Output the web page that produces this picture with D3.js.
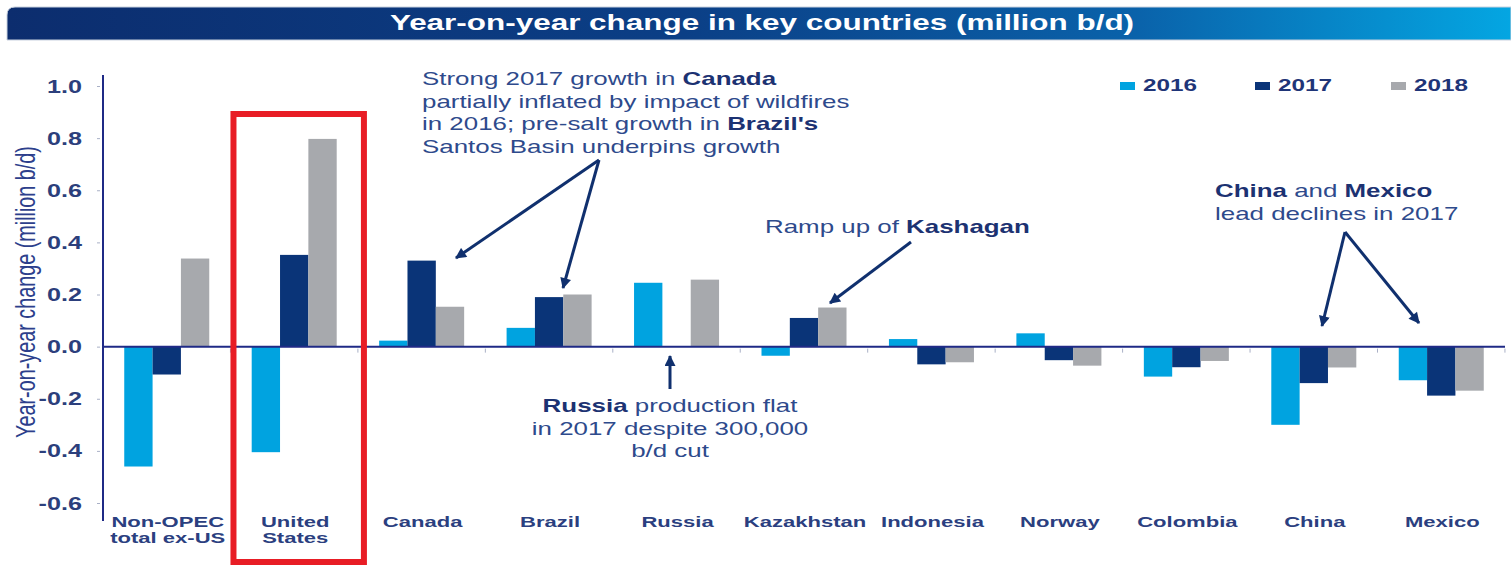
<!DOCTYPE html>
<html><head><meta charset="utf-8">
<script src="https://cdn.jsdelivr.net/npm/d3@7"></script>
<style>
body{margin:0;background:#fff}
svg{display:block}
text{font-family:"Liberation Sans",Arial,Helvetica,sans-serif}
</style>
</head><body>
<svg id="c" width="1511" height="566"></svg>
<script>
// ---------------- data ----------------
const categories = [["Non-OPEC","total ex-US"],["United","States"],["Canada"],["Brazil"],["Russia"],["Kazakhstan"],["Indonesia"],["Norway"],["Colombia"],["China"],["Mexico"]];
const categoryNames = categories.map(c => c.join(" "));
const seriesNames = ["2016","2017","2018"];
const values2016 = [-0.46,-0.405,0.023,0.072,0.245,-0.035,0.029,0.051,-0.115,-0.30,-0.129];
const values2017 = [-0.107,0.352,0.33,0.19,0,0.11,-0.068,-0.052,-0.079,-0.14,-0.188];
const values2018 = [0.338,0.797,0.153,0.20,0.257,0.15,-0.06,-0.073,-0.055,-0.08,-0.169];
const yTicks = [-0.6,-0.4,-0.2,0,0.2,0.4,0.6,0.8,1.0];
const yTickLabels = ["-0.6","-0.4","-0.2","0.0","0.2","0.4","0.6","0.8","1.0"];
const seriesColors = ["#00a3e0","#0a3478","#a7a9ad"];
const titleText = "Year-on-year change in key countries (million b/d)";
const yAxisTitle = "Year-on-year change (million b/d)";
const highlighted = "United States";

// ---------------- setup ----------------
const SX = 1.4; // horizontal glyph stretch of the reference
const svg = d3.select("#c");
const navy = "#1c3272";
const textBlue = "#2e4a8c";

const x0 = d3.scaleBand().domain(categoryNames).range([103,1505]).paddingInner(0.333).paddingOuter(0.1667);
const x1 = d3.scaleBand().domain(seriesNames).range([0,x0.bandwidth()]).padding(0);
const y = d3.scaleLinear().domain([-0.6,1.0]).range([503,86]);
const step = x0.step();

function stext(parent, x, yy, parts, o){
  const t = parent.append("text")
    .attr("transform", `translate(${x},${yy}) scale(${o.sx||SX},1)`)
    .attr("text-anchor", o.anchor||"start")
    .attr("font-size", o.size)
    .attr("fill", o.fill||navy);
  (Array.isArray(parts)?parts:[[parts,o.bold]]).forEach(([s,b]) => {
    t.append("tspan").text(s).attr("font-weight", b ? "bold" : "normal")
      .attr("fill", b ? (o.boldFill||o.fill||navy) : (o.fill||navy));
  });
  return t;
}

// ---------------- title bar ----------------
const defs = svg.append("defs");
const grad = defs.append("linearGradient").attr("id","tg").attr("x1","0").attr("x2","1").attr("y1","0").attr("y2","0");
[["0%","#0c2d6e"],["45%","#0b3f86"],["75%","#0a62aa"],["100%","#04a6e2"]].forEach(([o,c]) =>
  grad.append("stop").attr("offset",o).attr("stop-color",c));
svg.append("path").attr("d","M7,40 L7,15 Q7,7 15,7 L1511,7 L1511,40 Z")
  .attr("fill","url(#tg)").attr("stroke","#c9d2df").attr("stroke-width",1);
stext(svg, 762, 30, titleText, {size:22, bold:true, anchor:"middle", fill:"#ffffff", sx:1.43});

// ---------------- y axis ----------------
const yAxisG = svg.append("g").attr("transform","translate(100,0)")
  .call(d3.axisLeft(y).tickValues(yTicks).tickSize(3).tickFormat(""));
yAxisG.select(".domain").remove();
yAxisG.selectAll(".tick line").attr("stroke","#a9b0c6");
yTicks.forEach((v,i) => stext(svg, 82, y(v)+6.5, yTickLabels[i], {size:18, bold:true, anchor:"end", fill:"#2c3f7c"}));
svg.append("line").attr("x1",103).attr("x2",103).attr("y1",75).attr("y2",521)
  .attr("stroke","#1f2a86").attr("stroke-width",2);

svg.append("text").attr("transform",`translate(35,292) rotate(-90) scale(1,1.4)`)
  .attr("text-anchor","middle").attr("font-size",19.8).attr("fill","#2d3f8c").text(yAxisTitle);

// ---------------- bars ----------------
const seriesValues = [values2016, values2017, values2018];
const rows = [];
categoryNames.forEach((c,i) => seriesNames.forEach((s,j) => rows.push({c, s, j, v: seriesValues[j][i]})));
svg.append("g").selectAll("rect").data(rows).join("rect")
  .attr("x", d => x0(d.c) + x1(d.s))
  .attr("width", x1.bandwidth())
  .attr("y", d => y(Math.max(0,d.v)))
  .attr("height", d => Math.abs(y(d.v)-y(0)))
  .attr("fill", d => seriesColors[d.j]);

// x tick marks at boundaries
const boundaries = d3.range(1, categoryNames.length+1).map(i => 103 + i*step);
svg.append("g").selectAll("line").data(boundaries).join("line")
  .attr("x1", d => d).attr("x2", d => d).attr("y1", y(0)+2).attr("y2", y(0)+6)
  .attr("stroke","#a9b0c6").attr("stroke-width",1);
// zero line
svg.append("line").attr("x1",103).attr("x2",1505).attr("y1",y(0)).attr("y2",y(0))
  .attr("stroke","#1f2a86").attr("stroke-width",2);

// ---------------- category labels ----------------
categories.forEach((lines,i) => {
  const cx = x0(categoryNames[i]) + x0.bandwidth()/2 + 1;
  lines.forEach((ln,k) => stext(svg, cx, 527 + k*16.3, ln, {size:15, bold:true, anchor:"middle", fill:"#2b3f80", sx:1.47}));
});

// ---------------- highlight box ----------------
const hs = x0(highlighted) - (step - x0.bandwidth())/2;
svg.append("rect").attr("x", hs+3).attr("y",114).attr("width", step+3).attr("height",448)
  .attr("fill","none").attr("stroke","#e81d25").attr("stroke-width",6);

// ---------------- legend ----------------
const legendX = [1120, 1255, 1391];
seriesNames.forEach((s,j) => {
  svg.append("rect").attr("x",legendX[j]).attr("y",82).attr("width",15).attr("height",8).attr("fill",seriesColors[j]);
  stext(svg, legendX[j]+23, 91, s, {size:17, bold:true, fill:"#1f3578", sx:1.43});
});

// ---------------- annotations ----------------
defs.append("marker").attr("id","ah").attr("viewBox","0 0 10 10").attr("refX",9).attr("refY",5)
  .attr("markerWidth",13).attr("markerHeight",11).attr("markerUnits","userSpaceOnUse").attr("orient","auto")
  .append("path").attr("d","M0,0 L10,5 L0,10 Z").attr("fill","#10306e");
function arrow(pts){
  svg.append("path").attr("d", d3.line()(pts)).attr("fill","none").attr("stroke","#10306e")
    .attr("stroke-width",3).attr("marker-end","url(#ah)");
}
const ann1 = [
  [["Strong 2017 growth in ",0],["Canada",1]],
  [["partially inflated by impact of wildfires",0]],
  [["in 2016; pre-salt growth in ",0],["Brazil's",1]],
  [["Santos Basin underpins growth",0]]
];
ann1.forEach((p,k) => stext(svg, 422, 85 + k*22.7, p, {size:18.5, fill:textBlue, boldFill:navy}));
arrow([[599,160],[456,258]]);
arrow([[599,160],[563,288]]);

stext(svg, 765, 233, [["Ramp up of ",0],["Kashagan",1]], {size:18.5, fill:textBlue, boldFill:navy});
arrow([[911,242],[830,303]]);

const ann3 = [
  [["Russia",1],[" production flat",0]],
  [["in 2017 despite 300,000",0]],
  [["b/d cut",0]]
];
ann3.forEach((p,k) => stext(svg, 670, 412 + k*22.7, p, {size:18.5, anchor:"middle", fill:textBlue, boldFill:navy}));
arrow([[670,389],[670,356]]);

const ann4 = [
  [["China",1],[" and ",0],["Mexico",1]],
  [["lead declines in 2017",0]]
];
ann4.forEach((p,k) => stext(svg, 1215, 197 + k*22.5, p, {size:18.5, fill:textBlue, boldFill:navy}));
arrow([[1345,232],[1322,326]]);
arrow([[1345,232],[1419,323]]);
</script>
</body></html>
